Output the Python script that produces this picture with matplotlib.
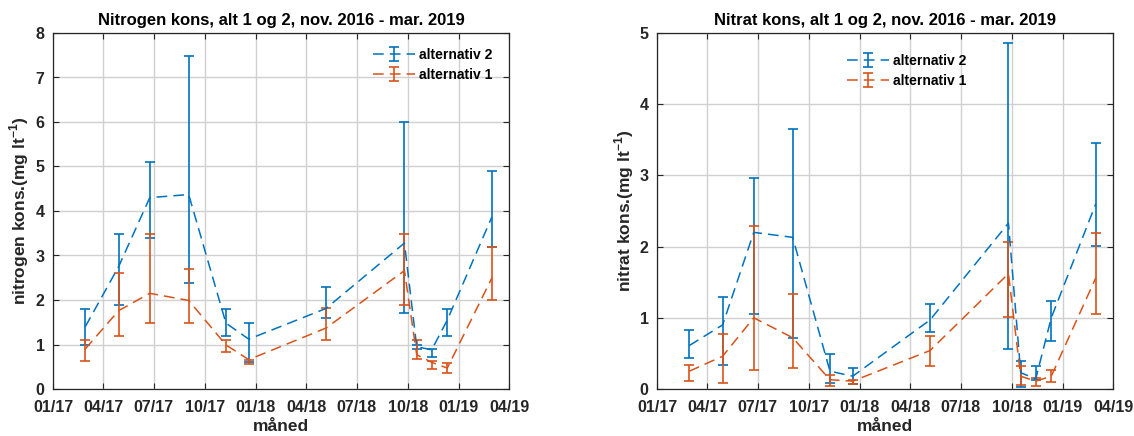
import matplotlib
matplotlib.use('Agg')
import matplotlib.pyplot as plt
import matplotlib.dates as mdates
import numpy as np

plt.rcParams['font.family'] = ['Liberation Sans', 'DejaVu Sans']
plt.rcParams['font.weight'] = 'bold'
plt.rcParams['mathtext.fontset'] = 'custom'
plt.rcParams['mathtext.rm'] = 'Liberation Sans:bold'
plt.rcParams['mathtext.bf'] = 'Liberation Sans:bold'

# sampling dates (same for both panels)
dates = ['2017-02-28', '2017-04-29', '2017-06-24', '2017-09-02', '2017-11-08', '2017-12-19',
         '2018-05-07', '2018-09-25', '2018-10-17', '2018-11-13', '2018-12-11', '2019-03-01']

# nitrogen, alternativ 2 / alternativ 1 (mean, lower, upper)
n_alt2 = [1.40, 2.75, 4.30, 4.37, 1.48, 1.12, 1.81, 3.28, 0.95, 0.88, 1.55, 3.86]
n_alt2_lo = [0.98, 1.89, 3.39, 2.39, 1.19, 0.60, 1.60, 1.70, 0.90, 0.71, 1.19, 3.19]
n_alt2_hi = [1.79, 3.49, 5.09, 7.49, 1.79, 1.49, 2.30, 5.99, 1.00, 0.90, 1.79, 4.89]
n_alt1 = [0.90, 1.76, 2.15, 1.99, 0.99, 0.66, 1.37, 2.66, 0.77, 0.60, 0.47, 2.49]
n_alt1_lo = [0.62, 1.20, 1.49, 1.49, 0.84, 0.57, 1.09, 1.89, 0.68, 0.45, 0.36, 2.00]
n_alt1_hi = [1.09, 2.60, 3.49, 2.69, 1.09, 0.66, 1.81, 3.49, 1.09, 0.64, 0.58, 3.19]

# nitrat, alternativ 2 / alternativ 1
t_alt2 = [0.61, 0.90, 2.20, 2.13, 0.25, 0.18, 0.97, 2.33, 0.23, 0.14, 1.00, 2.60]
t_alt2_lo = [0.43, 0.34, 1.05, 0.72, 0.08, 0.07, 0.80, 0.56, 0.03, 0.12, 0.67, 2.01]
t_alt2_hi = [0.83, 1.29, 2.97, 3.65, 0.49, 0.29, 1.20, 4.86, 0.39, 0.32, 1.24, 3.46]
t_alt1 = [0.25, 0.46, 1.00, 0.72, 0.13, 0.11, 0.54, 1.62, 0.18, 0.11, 0.18, 1.56]
t_alt1_lo = [0.11, 0.08, 0.27, 0.29, 0.04, 0.07, 0.33, 1.01, 0.06, 0.04, 0.10, 1.06]
t_alt1_hi = [0.34, 0.77, 2.29, 1.33, 0.19, 0.13, 0.74, 2.07, 0.33, 0.16, 0.26, 2.19]

blue = '#0072BD'
orange = '#D95319'
dark = '#262626'

x = np.array(dates, dtype='datetime64[D]')
ticks = np.arange(np.datetime64('2017-01'), np.datetime64('2019-07'), 3).astype('datetime64[D]')


def errbar(ax, m, lo, hi, color, label):
    m = np.array(m)
    yerr = [m - np.array(lo), np.array(hi) - m]
    ax.errorbar(x, m, yerr=yerr, color=color, ls=(0, (7, 4)), lw=1.1,
                elinewidth=1.2, capsize=3.5, capthick=1.2, label=label)


fig = plt.figure(figsize=(11.34, 4.36), dpi=100)
ax1 = fig.add_axes([53 / 1134, 47 / 436, 456 / 1134, 356 / 436])
ax2 = fig.add_axes([657 / 1134, 47 / 436, 456 / 1134, 356 / 436])

panels = [
    (ax1, n_alt2, n_alt2_lo, n_alt2_hi, n_alt1, n_alt1_lo, n_alt1_hi, 8,
     'Nitrogen kons, alt 1 og 2, nov. 2016 - mar. 2019', r'nitrogen kons.(mg lt$^{\mathbf{-1}}$)', (373, 48)),
    (ax2, t_alt2, t_alt2_lo, t_alt2_hi, t_alt1, t_alt1_lo, t_alt1_hi, 5,
     'Nitrat kons, alt 1 og 2, nov. 2016 - mar. 2019', r'nitrat kons.(mg lt$^{\mathbf{-1}}$)', (847, 54)),
]

for ax, a2, a2l, a2h, a1, a1l, a1h, ymax, title, ylab, legpos in panels:
    errbar(ax, a2, a2l, a2h, blue, 'alternativ 2')
    errbar(ax, a1, a1l, a1h, orange, 'alternativ 1')
    ax.set_xlim(np.datetime64('2017-01-01'), np.datetime64('2019-04-01'))
    ax.set_ylim(0, ymax)
    ax.set_xticks(ticks)
    ax.xaxis.set_major_formatter(mdates.DateFormatter('%m/%y'))
    ax.set_yticks(np.arange(0, ymax + 1, 1))
    ax.grid(True, color='#d0d0d0', lw=1.0)
    ax.set_axisbelow(True)
    ax.tick_params(direction='in', length=4, width=0.8, top=True, right=True,
                   labelsize=11.5, colors=dark)
    ax.tick_params(axis='x', pad=8)
    ax.tick_params(axis='y', pad=6)
    for s in ax.spines.values():
        s.set_color(dark)
        s.set_linewidth(0.9)
    ax.set_title(title, fontsize=12, fontweight='bold', pad=6)
    ax.set_xlabel('måned', fontsize=12.5, fontweight='bold', color=dark, labelpad=3)
    ax.set_ylabel(ylab, fontsize=12.5, fontweight='bold', color=dark, labelpad=3)
    ax.legend(loc='upper left', bbox_to_anchor=(legpos[0] / 1134, 1 - legpos[1] / 436),
              bbox_transform=fig.transFigure, frameon=False, fontsize=10,
              borderpad=0, borderaxespad=0, handlelength=3.0, handletextpad=0.3,
              labelspacing=0.45)

fig.savefig('out.png', dpi=100)
